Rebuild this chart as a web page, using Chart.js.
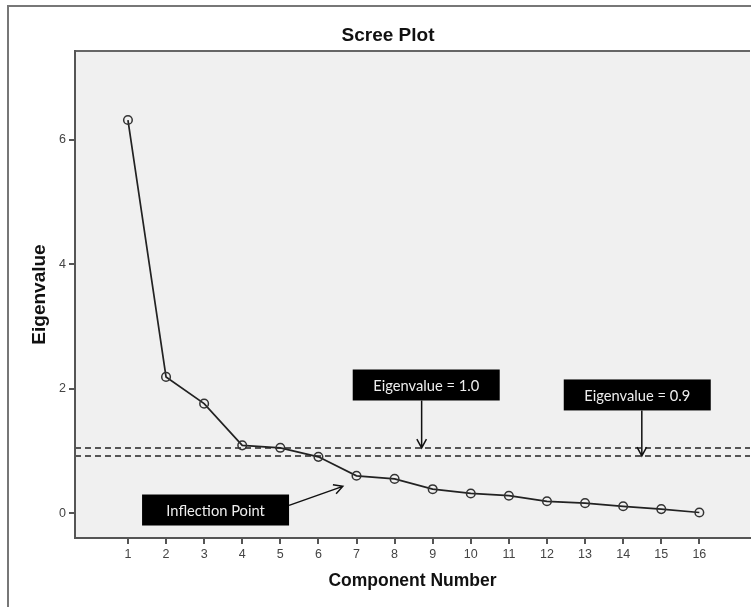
<!DOCTYPE html>
<html>
<head>
<meta charset="utf-8">
<title>Scree Plot</title>
<script src="https://cdn.jsdelivr.net/npm/chart.js@4.4.1/dist/chart.umd.min.js"></script>
<style>
  html, body { margin: 0; padding: 0; background: #fff; }
  #wrap { width: 751px; height: 607px; }
</style>
</head>
<body>
<div id="wrap"><canvas id="scree" width="751" height="607"></canvas></div>
<script>
// values
const components = [1, 2, 3, 4, 5, 6, 7, 8, 9, 10, 11, 12, 13, 14, 15, 16];
const eigenvalues = [6.32, 2.19, 1.76, 1.09, 1.05, 0.905, 0.6, 0.55, 0.385, 0.316, 0.28, 0.19, 0.16, 0.11, 0.065, 0.01];
const yTicks = [0, 2, 4, 6];
const cutoffs = [1.05, 0.92];

// callout boxes: text, box centre and arrow (from -> to) in data units
const callouts = [
    { text: 'Eigenvalue = 1.0', cx: 8.83, cy: 2.06, from: [8.71, 2.06], to: [8.71, 1.05] },
    { text: 'Eigenvalue = 0.9', cx: 14.37, cy: 1.9, from: [14.49, 1.9], to: [14.49, 0.92] },
    { text: 'Inflection Point', cx: 3.3, cy: 0.05, from: [6.64, 0.43], to: [6.64, 0.43], side: true }
];

const extras = {
    id: 'extras',
    beforeDraw(chart) {
        const { ctx, chartArea: a } = chart;
        ctx.save();
        ctx.fillStyle = '#f0f0f0';
        ctx.fillRect(a.left, a.top, a.right - a.left, a.bottom - a.top);
        // outer frame
        ctx.strokeStyle = '#777';
        ctx.lineWidth = 2;
        ctx.beginPath();
        ctx.moveTo(8, 607);
        ctx.lineTo(8, 6);
        ctx.lineTo(751, 6);
        ctx.stroke();
        // top edge of the plot
        ctx.strokeStyle = '#666';
        ctx.beginPath();
        ctx.moveTo(a.left, a.top);
        ctx.lineTo(a.right, a.top);
        ctx.stroke();
        // title
        ctx.fillStyle = '#111';
        ctx.font = 'bold 19px "Liberation Sans", Arial, sans-serif';
        ctx.textAlign = 'center';
        ctx.textBaseline = 'middle';
        ctx.fillText('Scree Plot', 388, 36);
        ctx.restore();
    },
    beforeDatasetsDraw(chart) {
        const { ctx, chartArea: a, scales: { y } } = chart;
        ctx.save();
        ctx.strokeStyle = '#555';
        ctx.lineWidth = 2;
        ctx.setLineDash([6, 4]);
        cutoffs.forEach(v => {
            const py = Math.round(y.getPixelForValue(v));
            ctx.beginPath();
            ctx.moveTo(a.left, py);
            ctx.lineTo(a.right, py);
            ctx.stroke();
        });
        ctx.restore();
    },
    afterDatasetsDraw(chart) {
        const { ctx, scales: { x, y } } = chart;
        const w = 147, h = 31;
        ctx.save();
        callouts.forEach(c => {
            const bx = x.getPixelForValue(c.cx) - w / 2;
            const by = y.getPixelForValue(c.cy) - h / 2;
            let x1 = x.getPixelForValue(c.from[0]), y1 = by + h;
            const x2 = x.getPixelForValue(c.to[0]), y2 = y.getPixelForValue(c.to[1]);
            if (c.side) { x1 = bx + w; y1 = by + h * 0.35; }
            // arrow line
            ctx.strokeStyle = '#111';
            ctx.lineWidth = 1.5;
            ctx.beginPath();
            ctx.moveTo(x1, y1);
            ctx.lineTo(x2, y2);
            const ang = Math.atan2(y2 - y1, x2 - x1);
            ctx.moveTo(x2 - 10 * Math.cos(ang - 0.5), y2 - 10 * Math.sin(ang - 0.5));
            ctx.lineTo(x2, y2);
            ctx.lineTo(x2 - 10 * Math.cos(ang + 0.5), y2 - 10 * Math.sin(ang + 0.5));
            ctx.stroke();
            // box
            ctx.fillStyle = '#000';
            ctx.fillRect(bx, by, w, h);
            ctx.fillStyle = '#eee';
            ctx.font = '14.7px Lato, "Open Sans", sans-serif';
            ctx.textAlign = 'center';
            ctx.textBaseline = 'middle';
            ctx.fillText(c.text, bx + w / 2, by + h / 2 + 1);
        });
        ctx.restore();
    }
};

const tickFont = { family: '"Liberation Sans", Arial, sans-serif', size: 12.5 };
const titleFont = { family: '"Liberation Sans", Arial, sans-serif', size: 17.5, weight: 'bold' };

new Chart(document.getElementById('scree'), {
    type: 'line',
    data: {
        datasets: [{
            data: components.map((c, i) => ({ x: c, y: eigenvalues[i] })),
            borderColor: '#222',
            borderWidth: 1.7,
            pointRadius: 4.3,
            pointBorderWidth: 1.5,
            pointBorderColor: '#333',
            pointBackgroundColor: 'rgba(0,0,0,0)',
            tension: 0
        }]
    },
    options: {
        responsive: false,
        animation: false,
        layout: { autoPadding: false, padding: { top: 51, right: 1, left: 0, bottom: 0 } },
        plugins: { legend: { display: false }, tooltip: { enabled: false } },
        scales: {
            x: {
                type: 'linear',
                min: -0.39,
                max: 17.33,
                afterBuildTicks: s => { s.ticks = components.map(v => ({ value: v })); },
                afterFit: s => { s.height = 69; s.paddingLeft = 0; s.paddingRight = 0; },
                grid: { drawOnChartArea: false, tickLength: 6, color: '#555', lineWidth: 2 },
                border: { color: '#555', width: 2 },
                ticks: { font: tickFont, color: '#444', padding: 3, autoSkip: false, maxRotation: 0 },
                title: { display: true, text: 'Component Number', font: titleFont, color: '#111', padding: { top: 0, bottom: 15 } }
            },
            y: {
                min: -0.4,
                max: 7.43,
                afterBuildTicks: s => { s.ticks = yTicks.map(v => ({ value: v })); },
                afterFit: s => { s.width = 75; s.paddingTop = 0; s.paddingBottom = 0; },
                grid: { drawOnChartArea: false, tickLength: 6, color: '#555', lineWidth: 2 },
                border: { color: '#555', width: 2 },
                ticks: { font: tickFont, color: '#444', padding: 3 },
                title: { display: true, text: 'Eigenvalue', font: { ...titleFont, size: 19 }, color: '#111', padding: { top: 28, bottom: 0 } }
            }
        }
    },
    plugins: [extras]
});
</script>
</body>
</html>
